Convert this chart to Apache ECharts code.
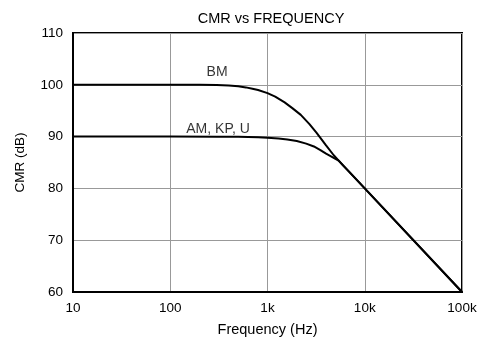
<!DOCTYPE html>
<html><head><meta charset="utf-8">
<script src="https://cdn.jsdelivr.net/npm/echarts@6/dist/echarts.min.js"></script>
<style>html,body{margin:0;padding:0;background:#fff}#c{width:489px;height:342px}</style>
</head><body><div id="c"></div>
<script>
const bmFreq = [10, 100, 200, 300, 400, 500, 600, 700, 800, 1000, 1200, 1500, 1800, 2200, 2700, 3200, 4000, 4800, 6000, 7000, 10000, 100000];
const bmCMR  = [100, 100, 100, 99.95, 99.85, 99.7, 99.5, 99.25, 99.0, 98.4, 97.7, 96.6, 95.5, 94.2, 92.4, 90.7, 88.3, 86.4, 84.4, 83.1, 80, 60];
const amFreq = [10, 100, 300, 500, 800, 1000, 1300, 1600, 2000, 2500, 3000, 3500, 4000, 4500, 5000, 5400, 10000, 100000];
const amCMR  = [90, 90, 89.98, 89.95, 89.88, 89.8, 89.65, 89.45, 89.15, 88.65, 88.1, 87.4, 86.7, 86.2, 85.7, 85.35, 80, 60];
const xTicks = ['10', '100', '1k', '10k', '100k'];
const yTicks = [60, 70, 80, 90, 100, 110];
const labels = [['BM', 303, 102.4], ['AM, KP, U', 310, 91.4]];

const font = 'Liberation Sans, Arial, sans-serif';
const chart = echarts.init(document.getElementById('c'));
const toPairs = (xs, ys) => xs.map((x, i) => [x, ys[i]]);
const lineStyle = {color: '#000', width: 2};
chart.setOption({
  animation: false,
  title: {text: 'CMR vs FREQUENCY', left: 266, top: 6, textAlign: 'center',
    textStyle: {fontFamily: font, fontSize: 14.5, fontWeight: 'normal', color: '#000'}},
  grid: {left: 73, right: 27, top: 33, bottom: 47, show: true, borderColor: '#000', borderWidth: 2},
  xAxis: {type: 'log', logBase: 10, min: 10, max: 100000,
    name: 'Frequency (Hz)', nameLocation: 'middle', nameGap: 30,
    nameTextStyle: {fontFamily: font, fontSize: 14.5, color: '#000'},
    axisLine: {show: true, lineStyle: {color: '#000', width: 2}},
    axisTick: {show: false},
    axisLabel: {fontFamily: font, fontSize: 13.5, color: '#000', margin: 9,
      formatter: v => { const i = Math.round(Math.log10(v)) - 1; return xTicks[i] || ''; }},
    splitLine: {show: true, lineStyle: {color: '#999', width: 1}},
    minorSplitLine: {show: false}},
  yAxis: {type: 'value', min: yTicks[0], max: yTicks[yTicks.length - 1], interval: 10,
    name: 'CMR (dB)', nameLocation: 'middle', nameGap: 46, nameRotate: 90,
    nameTextStyle: {fontFamily: font, fontSize: 13.5, color: '#000'},
    axisLine: {show: true, lineStyle: {color: '#000', width: 2}},
    axisTick: {show: false},
    axisLabel: {fontFamily: font, fontSize: 13.5, color: '#000', margin: 10},
    splitLine: {show: true, lineStyle: {color: '#999', width: 1}}},
  series: [
    {type: 'line', name: 'BM', data: toPairs(bmFreq, bmCMR), smooth: false,
      showSymbol: false, lineStyle: lineStyle, z: 5},
    {type: 'line', name: 'AM', data: toPairs(amFreq, amCMR), smooth: false,
      showSymbol: false, lineStyle: lineStyle, z: 5},
    {type: 'scatter', data: labels.map(l => ({value: [l[1], l[2]], name: l[0]})),
      symbolSize: 0, silent: true,
      label: {show: true, position: 'inside', formatter: p => p.name,
        fontFamily: font, fontSize: 14, color: '#000'}}
  ]
});
</script></body></html>
